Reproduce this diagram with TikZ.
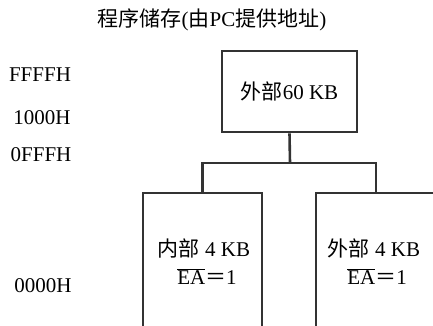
\documentclass[tikz,border=0pt]{standalone}
\usepackage{fontspec}
\setmainfont{Liberation Serif}
\newfontfamily\cjk{Noto Sans CJK SC}
\newcommand\ovl[1]{$\overline{\hbox{#1}}$}
\begin{document}
\begin{tikzpicture}[x=1pt,y=-1pt,
  txt/.style={font=\fontsize{21}{28}\selectfont, inner sep=0pt, align=center},
  box/.style={draw=black!80, line width=2.6pt, rectangle, inner sep=0pt},
  wire/.style={draw=black!80, line width=2.6pt}]
\clip (0,0) rectangle (433,326);
\fill[white] (0,0) rectangle (433,326);
% title
\node[txt] (title) at (212,20) {{\cjk 程序储存}({\cjk 由}PC{\cjk 提供地址})};
% addresses
\node[txt] (a1) at (40,75) {FFFFH};
\node[txt] (a2) at (42,118) {1000H};
\node[txt] (a3) at (41,155) {0FFFH};
\node[txt] (a4) at (43,286) {0000H};
% boxes
\node[box, minimum width=135, minimum height=81] (top) at (289.5,91.5) {};
\node[txt] (toptext) at (top.center) {{\cjk 外部}60 KB};
\node[box, minimum width=119, minimum height=160] (lb) at (202.5,273) {};
\node[box, minimum width=130, minimum height=160] (rb) at (381,273) {};
\node[txt] (lbt) at (204,262) {{\cjk 内部} 4 KB\\ \hspace*{6pt}\ovl{EA}{\cjk ＝}1};
\node[txt] (rbt) at (374,262) {{\cjk 外部} 4 KB\\ \hspace*{6pt}\ovl{EA}{\cjk ＝}1};
% connectors
\coordinate (bus) at (290,163);
\coordinate (rstem) at (376,193);
\draw[wire] (top.south) -- (bus);
\draw[wire] (lb.north) |- (bus) -| (rstem);
\end{tikzpicture}
\end{document}
